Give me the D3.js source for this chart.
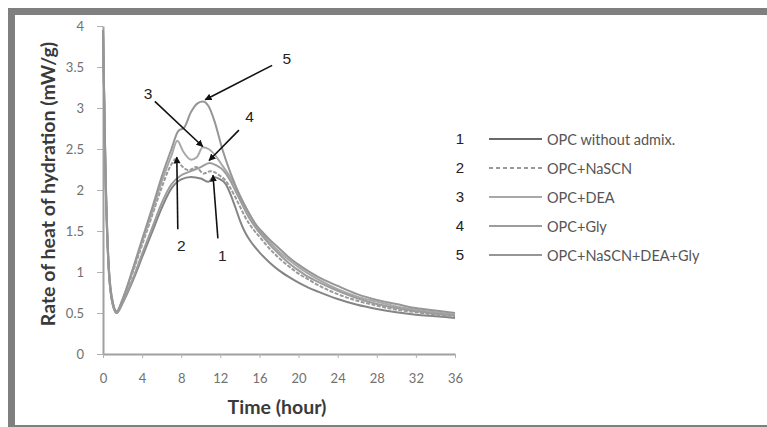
<!DOCTYPE html>
<html>
<head>
<meta charset="utf-8">
<script src="https://cdn.jsdelivr.net/npm/d3@7"></script>
<style>
  html, body { margin: 0; padding: 0; background: #fff; }
  svg { display: block; }
</style>
</head>
<body>
<svg id="chart" width="767" height="427"></svg>
<script>
// Heat flow calorimetry: rate of heat of hydration vs. time, five mixes
const seriesIds = ["1", "2", "3", "4", "5"];
const seriesNames = ["OPC without admix.", "OPC+NaSCN", "OPC+DEA", "OPC+Gly", "OPC+NaSCN+DEA+Gly"];
const xTickValues = [0, 4, 8, 12, 16, 20, 24, 28, 32, 36];
const yTickValues = [0, 0.5, 1, 1.5, 2, 2.5, 3, 3.5, 4];

// [time (h), rate (mW/g)]
const opc = [[0,3.95],[0.25,2.2],[0.6,1.0],[1.0,0.6],[1.4,0.5],[2,0.62],[3,0.88],[4,1.18],[5,1.48],[6,1.78],[7,2.02],[8,2.13],[9,2.16],[10,2.14],[10.8,2.1],[11.3,2.16],[12,2.13],[12.5,2.08],[13,1.96],[13.5,1.8],[14,1.63],[14.5,1.49],[15,1.39],[16,1.24],[17,1.12],[18,1.02],[19,0.94],[20,0.87],[21,0.81],[22,0.76],[24,0.67],[26,0.6],[28,0.55],[30,0.51],[32,0.48],[34,0.46],[36,0.44]];
const opcNaSCN = [[0,3.95],[0.25,2.25],[0.6,1.02],[1.0,0.62],[1.4,0.51],[2,0.65],[3,0.98],[4,1.33],[5,1.68],[6,2.03],[6.8,2.27],[7.5,2.38],[8,2.3],[8.8,2.24],[9.5,2.28],[10.3,2.2],[11,2.23],[12,2.17],[12.5,2.12],[13,2.03],[13.5,1.92],[14,1.8],[14.5,1.68],[15,1.58],[15.5,1.5],[16,1.43],[17,1.29],[18,1.17],[19,1.07],[20,0.98],[21,0.91],[22,0.84],[24,0.73],[26,0.65],[28,0.59],[30,0.54],[32,0.51],[34,0.48],[36,0.46]];
const opcDEA = [[0,3.95],[0.25,2.3],[0.6,1.05],[1.0,0.63],[1.4,0.52],[2,0.66],[3,1.0],[4,1.37],[5,1.72],[6,2.1],[7,2.42],[7.6,2.6],[8.2,2.47],[9,2.37],[9.6,2.4],[10.2,2.52],[10.8,2.5],[11.5,2.42],[12.2,2.3],[13,2.16],[13.5,2.05],[14,1.93],[14.5,1.81],[15,1.7],[16,1.51],[17,1.37],[18,1.25],[19,1.15],[20,1.06],[21,0.98],[22,0.91],[24,0.79],[26,0.7],[28,0.64],[30,0.58],[32,0.54],[34,0.51],[36,0.48]];
const opcGly = [[0,3.95],[0.25,2.2],[0.6,1.0],[1.0,0.6],[1.4,0.5],[2,0.63],[3,0.9],[4,1.22],[5,1.53],[6,1.84],[7,2.07],[8,2.18],[9,2.23],[10,2.28],[10.9,2.33],[11.6,2.3],[12.3,2.24],[13,2.12],[13.5,2.0],[14,1.88],[14.5,1.76],[15,1.65],[15.8,1.51],[16.5,1.41],[17,1.34],[18,1.22],[19,1.11],[20,1.02],[21,0.94],[22,0.88],[24,0.77],[26,0.68],[28,0.61],[30,0.56],[32,0.52],[34,0.49],[36,0.47]];
const opcAll = [[0,3.95],[0.25,2.3],[0.6,1.05],[1.0,0.63],[1.4,0.52],[2,0.67],[3,1.02],[4,1.4],[5,1.77],[6,2.16],[7,2.5],[7.7,2.72],[8.3,2.76],[9,2.95],[9.7,3.06],[10.2,3.08],[10.8,3.02],[11.4,2.84],[12.2,2.5],[13,2.22],[13.5,2.07],[14,1.93],[14.5,1.81],[15,1.7],[15.5,1.6],[16.2,1.5],[17,1.4],[18,1.29],[19,1.18],[20,1.09],[21,1.01],[22,0.94],[24,0.83],[26,0.73],[28,0.66],[30,0.61],[32,0.56],[34,0.53],[36,0.5]];
const seriesData = [opc, opcNaSCN, opcDEA, opcGly, opcAll];

// numbered call-outs: label, arrow tail, arrow tip (time, rate)
const calloutLabels = ["5", "3", "4", "2", "1"];
const calloutText = [[18.8, 3.6], [4.6, 3.18], [15.0, 2.9], [8.0, 1.32], [12.2, 1.2]];
const calloutTail = [[17.3, 3.52], [5.3, 3.08], [13.9, 2.73], [7.65, 1.52], [11.75, 1.41]];
const calloutTip  = [[10.45, 3.1], [10.2, 2.53], [10.85, 2.36], [7.55, 2.4], [11.25, 2.18]];

const strokeColors = ["#858585", "#9a9a9a", "#a8a8a8", "#9c9c9c", "#969696"];
const dashes = [null, "4,1.5", null, null, null];
const legendDashes = [null, "4,3", null, null, null];

const svg = d3.select("#chart");

// outer frame
svg.append("rect")
  .attr("x", 11.5).attr("y", 11.5)
  .attr("width", 820).attr("height", 417)
  .attr("fill", "#fff")
  .attr("stroke", "#7f7f7f")
  .attr("stroke-width", 7);

const x = d3.scaleLinear().domain([0, 36]).range([103, 455]);
const y = d3.scaleLinear().domain([0, 4]).range([354, 26]);

const tickFont = "Lato, 'Open Sans', sans-serif";

// y axis
const yAxis = svg.append("g")
  .attr("transform", `translate(${x(0)},0)`)
  .call(d3.axisLeft(y).tickValues(yTickValues)
    .tickFormat(d => String(d)).tickSize(6).tickPadding(13).tickSizeOuter(0));
yAxis.select(".domain").attr("stroke", "#a0a0a0").attr("stroke-width", 2);
yAxis.selectAll(".tick line").attr("stroke", "#b0b0b0").attr("stroke-width", 1);
yAxis.selectAll(".tick text")
  .attr("fill", "#707070").attr("font-family", tickFont).attr("font-size", 13);

// x axis
const xAxis = svg.append("g")
  .attr("transform", `translate(0,${y(0)})`)
  .call(d3.axisBottom(x).tickValues(xTickValues)
    .tickFormat(d => String(d)).tickSize(4).tickPadding(16).tickSizeOuter(0));
xAxis.select(".domain").attr("stroke", "#a0a0a0").attr("stroke-width", 2);
xAxis.selectAll(".tick line").attr("stroke", "#b0b0b0").attr("stroke-width", 1);
xAxis.selectAll(".tick text")
  .attr("fill", "#707070").attr("font-family", tickFont).attr("font-size", 13);

// axis titles
svg.append("text")
  .attr("x", 277).attr("y", 414)
  .attr("text-anchor", "middle")
  .attr("font-family", tickFont).attr("font-weight", "bold")
  .attr("font-size", 19.5).attr("fill", "#3a3a3a")
  .text("Time (hour)");

svg.append("text")
  .attr("transform", "translate(55,184) rotate(-90)")
  .attr("text-anchor", "middle")
  .attr("font-family", tickFont).attr("font-weight", "bold")
  .attr("font-size", 19.5).attr("fill", "#3a3a3a")
  .text("Rate of heat of hydration (mW/g)");

// curves
const line = d3.line()
  .x(d => x(d[0])).y(d => y(d[1]))
  .curve(d3.curveMonotoneX);

svg.append("g").selectAll("path")
  .data(seriesData)
  .join("path")
  .attr("d", line)
  .attr("fill", "none")
  .attr("stroke", (d, i) => strokeColors[i])
  .attr("stroke-width", 2)
  .attr("stroke-dasharray", (d, i) => dashes[i]);

// arrowhead marker
svg.append("defs").append("marker")
  .attr("id", "arrowhead")
  .attr("viewBox", "0 0 10 10")
  .attr("refX", 9).attr("refY", 5)
  .attr("markerWidth", 7).attr("markerHeight", 7)
  .attr("markerUnits", "userSpaceOnUse")
  .attr("orient", "auto")
  .append("path").attr("d", "M0,0 L10,5 L0,10 z").attr("fill", "#111");

const callouts = svg.append("g");
calloutLabels.forEach((lab, i) => {
  callouts.append("line")
    .attr("x1", x(calloutTail[i][0])).attr("y1", y(calloutTail[i][1]))
    .attr("x2", x(calloutTip[i][0])).attr("y2", y(calloutTip[i][1]))
    .attr("stroke", "#111").attr("stroke-width", 1.6)
    .attr("marker-end", "url(#arrowhead)");
  callouts.append("text")
    .attr("x", x(calloutText[i][0])).attr("y", y(calloutText[i][1]))
    .attr("text-anchor", "middle").attr("dominant-baseline", "central")
    .attr("font-family", "'Liberation Sans', Arial, sans-serif")
    .attr("font-size", 15.5).attr("fill", "#222")
    .text(lab);
});

// legend
const legend = svg.append("g");
seriesNames.forEach((name, i) => {
  const cy = 138 + i * 29;
  legend.append("text")
    .attr("x", 460).attr("y", cy)
    .attr("text-anchor", "middle").attr("dominant-baseline", "central")
    .attr("font-family", "'Liberation Sans', Arial, sans-serif")
    .attr("font-size", 15).attr("fill", "#222")
    .text(seriesIds[i]);
  legend.append("line")
    .attr("x1", 489).attr("x2", 542).attr("y1", cy + 1).attr("y2", cy + 1)
    .attr("stroke", i === 0 ? "#6a6a6a" : strokeColors[i])
    .attr("stroke-width", 2)
    .attr("stroke-dasharray", legendDashes[i]);
  legend.append("text")
    .attr("x", 547).attr("y", cy + 1)
    .attr("dominant-baseline", "central")
    .attr("font-family", tickFont)
    .attr("font-size", 14.5).attr("fill", "#555")
    .text(name);
});
</script>
</body>
</html>
